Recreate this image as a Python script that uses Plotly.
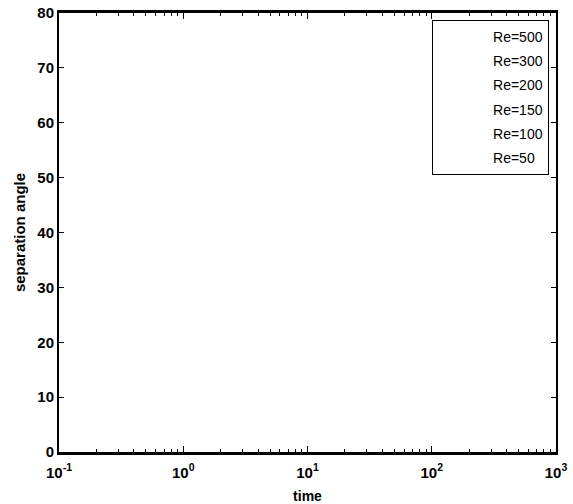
import plotly.graph_objects as go

# ---- data ----
reynolds = [500, 300, 200, 150, 100, 50]
series_names = [f"Re={r}" for r in reynolds]
time_values = [None]      # no visible samples in the reference
angle_values = [None]     # no visible samples in the reference

x_major = [0.1, 1, 10, 100, 1000]
x_major_text = ["10<sup>-1</sup>", "10<sup>0</sup>", "10<sup>1</sup>", "10<sup>2</sup>", "10<sup>3</sup>"]
y_ticks = [0, 10, 20, 30, 40, 50, 60, 70, 80]

FONT = "Liberation Sans, Arial, sans-serif"

fig = go.Figure()
for i, name in enumerate(series_names):
    fig.add_trace(go.Scatter(
        x=time_values, y=angle_values, mode="lines", name=name,
        legendgroup=name, line=dict(color="white", width=2),
    ))

x_minor = [m * d for d in [0.1, 1, 10, 100] for m in range(2, 10)]

fig.update_layout(
    template="none",
    width=573, height=504,
    margin=dict(l=59, r=17, t=13, b=52),
    paper_bgcolor="white", plot_bgcolor="white",
    font=dict(family=FONT, color="black"),
    showlegend=True,
    legend=dict(
        x=0.986, y=0.984, xanchor="right", yanchor="top",
        bgcolor="white", bordercolor="black", borderwidth=1,
        font=dict(family=FONT, size=14, color="black"),
        itemwidth=50, tracegroupgap=3,
    ),
    xaxis=dict(
        type="log", range=[-1, 3], automargin=False,
        tickmode="array", tickvals=x_major, ticktext=x_major_text,
        ticks="inside", ticklen=6, tickwidth=1, tickcolor="black",
        ticklabelstandoff=5,
        minor=dict(tickmode="array", tickvals=x_minor, ticks="inside",
                   ticklen=3, tickwidth=1, tickcolor="black", showgrid=False),
        showline=True, linecolor="black", linewidth=2.5, mirror="ticks",
        showgrid=False, zeroline=False,
        tickfont=dict(family=FONT, size=15, color="black", weight="bold"),
        title=dict(text="<b>time</b>", font=dict(family=FONT, size=14), standoff=12),
    ),
    yaxis=dict(
        range=[0, 80], tickmode="array", tickvals=y_ticks, automargin=False,
        ticks="inside", ticklen=5, tickwidth=1, tickcolor="black",
        showline=True, linecolor="black", linewidth=2, mirror="ticks",
        showgrid=False, zeroline=False,
        tickfont=dict(family=FONT, size=15, color="black", weight="bold"),
        title=dict(text="<b>separation angle</b>", font=dict(family=FONT, size=15), standoff=8),
    ),
)

fig.write_html("out.html")
